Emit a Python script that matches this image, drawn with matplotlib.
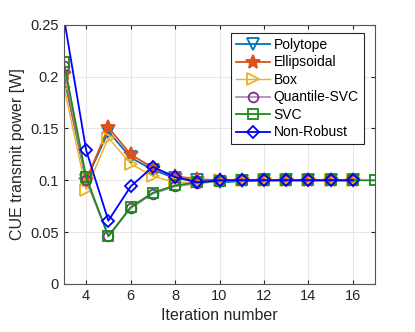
import numpy as np
import matplotlib
matplotlib.use('Agg')
import matplotlib.pyplot as plt

plt.rcParams['font.family'] = ['Liberation Sans', 'DejaVu Sans']

it = list(range(3, 17))
it_svc = list(range(3, 18))

polytope = [0.200, 0.100, 0.147, 0.122, 0.110, 0.102, 0.100, 0.098, 0.099, 0.100, 0.100, 0.100, 0.100, 0.100]
ellipsoidal = [0.203, 0.100, 0.151, 0.125, 0.112, 0.104, 0.101, 0.100, 0.100, 0.100, 0.100, 0.100, 0.100, 0.100]
box = [0.190, 0.091, 0.141, 0.116, 0.104, 0.098, 0.098, 0.100, 0.100, 0.100, 0.100, 0.100, 0.100, 0.100]
quantile_svc = [0.210, 0.100, 0.046, 0.073, 0.087, 0.094, 0.097, 0.099, 0.100, 0.100, 0.100, 0.100, 0.100, 0.100]
svc = [0.214, 0.103, 0.046, 0.074, 0.088, 0.095, 0.098, 0.0995, 0.100, 0.100, 0.100, 0.100, 0.100, 0.100, 0.100]
non_robust = [0.257, 0.129, 0.061, 0.094, 0.113, 0.103, 0.098, 0.100, 0.100, 0.100, 0.100, 0.100, 0.100, 0.100]

series = [
    ('Polytope', it, polytope, '#0072BD', 'v', 8.5),
    ('Ellipsoidal', it, ellipsoidal, '#D95319', '*', 10),
    ('Box', it, box, '#EDB120', '>', 8.5),
    ('Quantile-SVC', it, quantile_svc, '#7E2F8E', 'o', 7),
    ('SVC', it_svc, svc, '#1a8a1a', 's', 7),
    ('Non-Robust', it, non_robust, '#0000FF', 'D', 6),
]

fig = plt.figure(figsize=(4.15, 3.32), dpi=100)
ax = fig.add_axes([0.154, 0.145, 0.75, 0.78])

for name, x, y, c, m, ms in series:
    lc = c
    if name == 'Quantile-SVC':
        lc = '#B48CC0'
    face = c if name == 'Ellipsoidal' else 'none'
    ax.plot(x, y, color=lc, lw=1.3 if name != 'Box' else 1.0, marker=m, ms=ms,
            mfc=face, mec=c, mew=1.3, label=name)

ax.set_xlim(3, 17)
ax.set_ylim(0, 0.25)
ax.set_xticks(range(4, 17, 2))
ax.set_yticks([0, 0.05, 0.1, 0.15, 0.2, 0.25])
ax.set_yticklabels(['0', '0.05', '0.1', '0.15', '0.2', '0.25'])
ax.grid(True, color='#e6e6e6', lw=0.8)
ax.set_axisbelow(True)
ax.tick_params(direction='in', top=True, right=True, labelsize=10.5, colors='#262626', length=3)
for s in ax.spines.values():
    s.set_color('#555555')
ax.set_xlabel('Iteration number', fontsize=11.5, color='#262626')
ax.set_ylabel('CUE transmit power [W]', fontsize=11.5, color='#262626')

leg = ax.legend(loc='upper right', fontsize=10, fancybox=False, edgecolor='#262626',
                framealpha=1, handlelength=2.4, borderpad=0.35, labelspacing=0.25,
                handletextpad=0.3, bbox_to_anchor=(0.985, 0.995))
leg.get_frame().set_linewidth(0.8)

fig.savefig('out.png', dpi=100)
